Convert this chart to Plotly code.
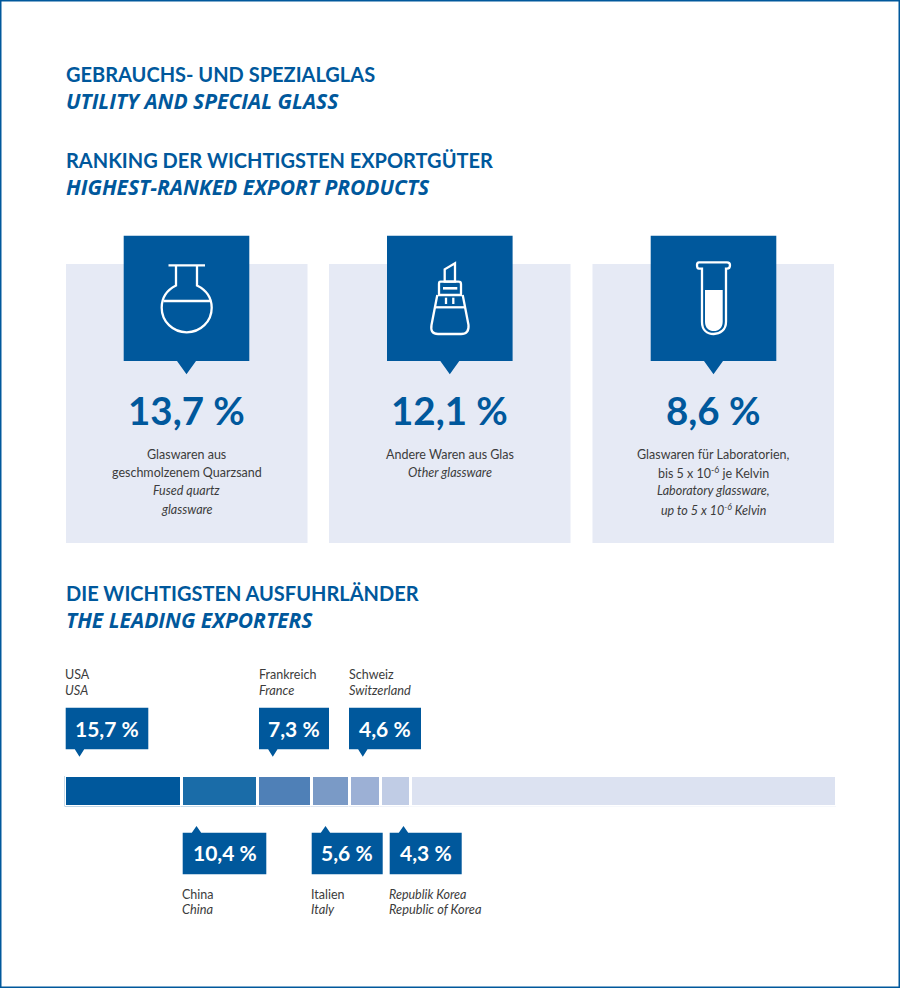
# Gebrauchs- und Spezialglas: export products and leading exporters
import plotly.graph_objs as go

# values
headings = ['GEBRAUCHS- UND SPEZIALGLAS', 'RANKING DER WICHTIGSTEN EXPORTGÜTER', 'DIE WICHTIGSTEN AUSFUHRLÄNDER']
headings_en = ['UTILITY AND SPECIAL GLASS', 'HIGHEST-RANKED EXPORT PRODUCTS', 'THE LEADING EXPORTERS']

product_shares = ['13,7 %', '12,1 %', '8,6 %']
product_text = [
    ['Glaswaren aus', 'geschmolzenem Quarzsand', '<i>Fused quartz</i>', '<i>glassware</i>'],
    ['Andere Waren aus Glas', '<i>Other glassware</i>'],
    ['Glaswaren für Laboratorien,', 'bis 5 x 10<sup>-6</sup> je Kelvin',
     '<i>Laboratory glassware,</i>', '<i>up to 5 x 10<sup>-6</sup> Kelvin</i>'],
]

countries = ['USA', 'China', 'Frankreich', 'Italien', 'Schweiz', '<i>Republik Korea</i>']
countries_en = ['USA', 'China', 'France', 'Italy', 'Switzerland', 'Republic of Korea']
country_labels = ['15,7 %', '10,4 %', '7,3 %', '5,6 %', '4,6 %', '4,3 %']

# segment lengths as drawn, in percent of the strip (last one is the rest)
strip_names = ['USA', 'China', 'Frankreich', 'Italien', 'Schweiz', 'Republik Korea', 'Rest']
strip_lengths = [15.2, 9.8, 7.0, 4.9, 4.1, 3.8, 55.2]
strip_colors = ['#00589c', '#1a6ca8', '#4f80b7', '#7a9ac6', '#9cb0d5', '#c0cce5', '#dce2f1']

BLUE = '#00589c'
PANEL = '#e6eaf5'
GREY = '#3c3c3c'
FONT = 'Lato'

shapes = []
annotations = []


def label(x, y, text, size, color=GREY, anchor='left', family=FONT):
    annotations.append(dict(x=x, y=y, xref='x', yref='y', text=text, showarrow=False,
                            xanchor=anchor, yanchor='middle', align=anchor, borderpad=0,
                            font=dict(family=family, size=size, color=color)))


def filled(path, color=BLUE):
    shapes.append(dict(type='path', xref='x', yref='y', path=path, fillcolor=color, line_width=0))


def stroke(path, width=2.3):
    shapes.append(dict(type='path', xref='x', yref='y', path=path,
                       line=dict(color='white', width=width)))


# page frame
shapes.append(dict(type='rect', xref='x', yref='y', x0=0.5, y0=0.5, x1=899.5, y1=987.5,
                   line=dict(color=BLUE, width=2)))

# headings
for i, y in enumerate([73.5, 159.5, 592.5]):
    label(64.5, y, '<b>' + headings[i] + '</b>', 20, BLUE)
    label(64.5, y + 27.5, '<b><i>' + headings_en[i] + '</i></b>', 21, BLUE, family='Open Sans')

# three panels with their icon boxes
panel_left = [66, 329, 592.5]
box_left = [123.7, 387, 650.7]
for i in range(3):
    x = panel_left[i]
    shapes.append(dict(type='rect', xref='x', yref='y', x0=x, x1=x + 241.5, y0=264, y1=543,
                       fillcolor=PANEL, line_width=0, layer='below'))
    b = box_left[i]
    mid = b + 62.8
    filled(f'M{b},235.7 L{b + 125.6},235.7 L{b + 125.6},361 L{mid + 9.5},361 L{mid},374.3 L{mid - 9.5},361 L{b},361 Z')
    label(x + 120.7, 409.5, '<b>' + product_shares[i] + '</b>', 38.5, BLUE, 'center')
    lines = product_text[i]
    for j, line in enumerate(lines):
        label(x + 120.7, 454 + j * 18.4, line, 12.5, GREY, 'center')

# flask icon
stroke('M168.5,265.3 L205,265.3')
stroke('M176,265.3 L176,285.5 C167,290 161.7,298 161.7,307.7 C161.7,321.5 172.9,332.3 186.7,332.3 '
       'C200.5,332.3 211.7,321.5 211.7,307.7 C211.7,298 206,290 197,285.5 L197,265.3')
stroke('M163.5,301 L210,301')

# bottle icon
stroke('M444.7,281.7 L444.7,269.3 L455,263.3 L455,281.7 Z')
stroke('M440.5,281.7 L458.5,281.7 Q461,281.7 461,284 L461,295 L439,295 L439,284 Q439,281.7 440.5,281.7 Z')
stroke('M443,288.3 L457.3,288.3', 2.6)
stroke('M437.3,295 L431.5,325 Q430,334 438,334 L461,334 Q469.3,334 468.5,325 L462.7,295')
stroke('M434,307.3 L466,307.3')
stroke('M446,297.7 L446,304')
stroke('M453.3,297.7 L453.3,304')

# test tube icon
stroke('M699,262.3 L727,262.3 Q730,262.3 730,265 Q730,268.7 727,268.7 L726,268.7 L726,321.7 '
       'C726,330 720,334 713.7,334 C707,334 702,330 702,321.7 L702,268.7 L699,268.7 Q697,268.7 697,265 Q697,262.3 699,262.3 Z')
filled('M705,290 L722.7,290 L722.7,321.7 C722.7,328 718.5,331 713.8,331 C709,331 705,328 705,321.7 Z', 'white')

# callouts above the strip (0, 2, 4) and below it (1, 3, 5)
callout_left = [65.7, 182.7, 259, 311.7, 349, 389.7]
callout_right = [148.3, 266.3, 329, 382.7, 421, 461.7]
for i in range(6):
    x0, x1 = callout_left[i], callout_right[i]
    tip = x0 + 13.8
    if i % 2 == 0:
        filled(f'M{x0},707.7 L{x1},707.7 L{x1},749.3 L{tip + 4.7},749.3 L{tip},756.7 L{tip - 4.7},749.3 L{x0},749.3 Z')
        label((x0 + x1) / 2, 728.5, '<b>' + country_labels[i] + '</b>', 21, 'white', 'center')
        label(x0 - 1.5, 674, countries[i], 12.5)
        label(x0 - 1.5, 689.5, '<i>' + countries_en[i] + '</i>', 12.8)
    else:
        filled(f'M{x0},832.7 L{tip - 4.7},832.7 L{tip},826 L{tip + 4.7},832.7 L{x1},832.7 L{x1},874.3 L{x0},874.3 Z')
        label((x0 + x1) / 2, 852.5, '<b>' + country_labels[i] + '</b>', 21, 'white', 'center')
        label(x0 - 1.5, 894, countries[i], 12.5)
        label(x0 - 1.5, 909, '<i>' + countries_en[i] + '</i>', 12.8)

# the strip
data = []
for i in range(len(strip_names)):
    data.append(go.Bar(x=[strip_lengths[i]], y=[0], name=strip_names[i], orientation='h',
                       xaxis='x2', yaxis='y2', hoverinfo='name',
                       marker=dict(color=strip_colors[i], line=dict(color='white', width=3))))

layout = go.Layout(
    width=900, height=988, margin=dict(l=0, r=0, t=0, b=0),
    paper_bgcolor='white', plot_bgcolor='rgba(0,0,0,0)',
    barmode='stack', bargap=0, showlegend=False,
    xaxis=dict(range=[0, 900], domain=[0, 1], visible=False, fixedrange=True),
    yaxis=dict(range=[988, 0], domain=[0, 1], visible=False, fixedrange=True),
    xaxis2=dict(range=[0, 100], domain=[64.7 / 900, 836.5 / 900], anchor='y2', visible=False),
    yaxis2=dict(range=[-0.5, 0.5], domain=[1 - 806.5 / 988, 1 - 776 / 988], anchor='x2', visible=False),
    shapes=shapes, annotations=annotations,
)

fig = go.Figure(data=data, layout=layout)
fig.write_html('out.html', config=dict(displayModeBar=False),
               post_script="document.body.style.margin='0';")
